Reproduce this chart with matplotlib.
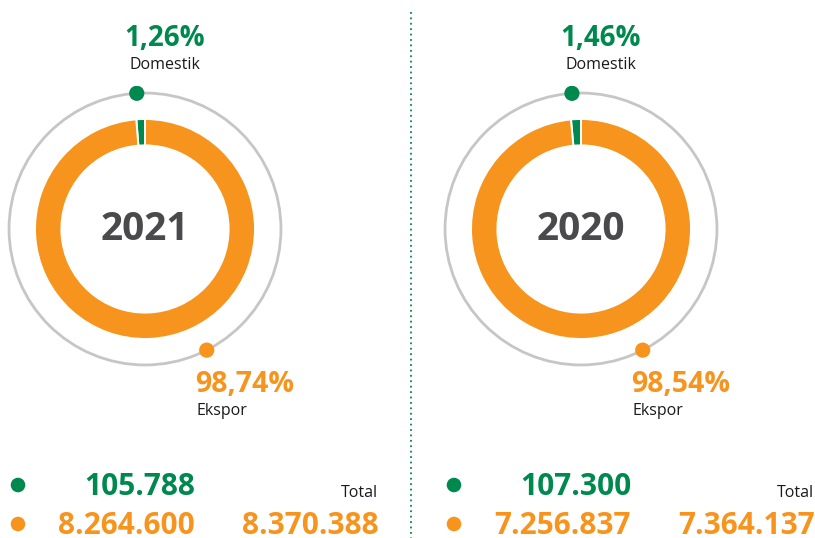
import matplotlib.pyplot as plt
import numpy as np
from matplotlib.patches import Circle

plt.rcParams['font.family'] = ['Open Sans', 'DejaVu Sans']

years = ['2021', '2020']
domestik = [105788, 107300]
ekspor = [8264600, 7256837]
total = [8370388, 7364137]
pct_domestik = ['1,26%', '1,46%']
pct_ekspor = ['98,74%', '98,54%']

GREEN = '#00894f'
ORANGE = '#f7941d'
GRAY = '#c6c6c6'
DARK = '#4a4a4c'

W, H = 815, 538


def fmt(n):
    return '{:,}'.format(n).replace(',', '.')


fig = plt.figure(figsize=(W / 100, H / 100), dpi=100)
ax = fig.add_axes([0, 0, 1, 1])
ax.set_xlim(0, W)
ax.set_ylim(H, 0)
ax.axis('off')

# garis pemisah
ax.plot([411, 411], [12, H], color=GREEN, linestyle=(0, (1, 2)), linewidth=1.3)

for i, year in enumerate(years):
    dx = i * 436
    cx, cy = 145 + dx, 229
    half = 143
    pax = fig.add_axes([(cx - half) / W, (H - cy - half) / H, 2 * half / W, 2 * half / H])
    pax.pie([domestik[i], ekspor[i]], startangle=90, counterclock=True,
            colors=[GREEN, ORANGE], radius=1.0,
            wedgeprops=dict(width=0.24, edgecolor='white', linewidth=1.4))
    pax.set_xlim(-1.3, 1.3)
    pax.set_ylim(-1.3, 1.3)
    pax.set_aspect('equal')
    pax.axis('off')
    pax.add_patch(Circle((0, 0), 1.236, fill=False, edgecolor=GRAY, linewidth=2))
    frac = domestik[i] / (domestik[i] + ekspor[i])
    a_dom = np.radians(90 + frac * 360 / 2 + 1.2)
    a_eks = np.radians(-63)
    pax.scatter([1.236 * np.cos(a_dom)], [1.236 * np.sin(a_dom)], s=120, color=GREEN,
                zorder=5, edgecolors='none')
    pax.scatter([1.236 * np.cos(a_eks)], [1.236 * np.sin(a_eks)], s=120, color=ORANGE,
                zorder=5, edgecolors='none')
    pax.text(0, 0, year, ha='center', va='center', fontsize=28, fontweight='bold', color=DARK)

    ax.text(165 + dx, 38, pct_domestik[i], ha='center', va='center', fontsize=20,
            fontweight='bold', color=GREEN)
    ax.text(165 + dx, 65, 'Domestik', ha='center', va='center', fontsize=11.5, color='#1a1a1a')
    ax.text(195 + dx, 385, pct_ekspor[i], ha='left', va='center', fontsize=20.5,
            fontweight='bold', color=ORANGE)
    ax.text(196 + dx, 411, 'Ekspor', ha='left', va='center', fontsize=11.5, color='#1a1a1a')

    # angka bawah
    ax.scatter([18 + dx], [485], s=110, color=GREEN, edgecolors='none')
    ax.scatter([18 + dx], [524], s=110, color=ORANGE, edgecolors='none')
    ax.text(195 + dx, 487, fmt(domestik[i]), ha='right', va='center', fontsize=21.5,
            fontweight='bold', color=GREEN)
    ax.text(195 + dx, 526, fmt(ekspor[i]), ha='right', va='center', fontsize=21.5,
            fontweight='bold', color=ORANGE)
    ax.text(378 + dx, 493, 'Total', ha='right', va='center', fontsize=11.5, color='#1a1a1a')
    ax.text(379 + dx, 526, fmt(total[i]), ha='right', va='center', fontsize=21.5,
            fontweight='bold', color=ORANGE)

fig.savefig('out.png', dpi=100)
